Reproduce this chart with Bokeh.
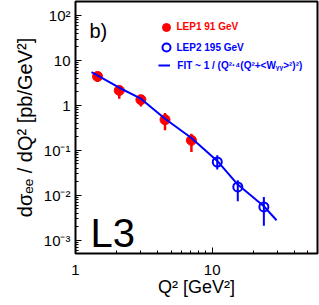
import math
from bokeh.plotting import figure
from bokeh.models import FixedTicker, Label, Legend, LegendItem
from bokeh.embed import file_html
from bokeh.resources import INLINE

# ---- data ----
lep1_q2 = [1.45, 2.09, 3.01, 4.52, 7.05]
lep1_xs = [4.41, 2.15, 1.34, 0.481, 0.167]
lep1_lo = [3.3, 1.41, 0.95, 0.278, 0.092]
lep1_hi = [5.5, 2.78, 1.67, 0.675, 0.235]

lep2_q2 = [10.9, 15.4, 23.9]
lep2_xs = [0.055, 0.0153, 0.0055]
lep2_lo = [0.0373, 0.0074, 0.0021]
lep2_hi = [0.0774, 0.0215, 0.0092]

fit_q2 = [1.31, 2.09, 3.01, 4.52, 7.05, 10.9, 15.4, 23.9, 29.6]
fit_xs = [5.49, 2.47, 1.41, 0.506, 0.188, 0.058, 0.0173, 0.0057, 0.00278]

x_ticks = [1.0, 10.0]
x_tick_labels = ["1", "10"]
y_ticks = [1e-3, 1e-2, 1e-1, 1.0, 10.0, 100.0]
y_tick_labels = ["10⁻³", "10⁻²", "10⁻¹", "1", "10", "10²"]

X0, X1 = 1.0, 59.0
Y0, Y1 = 5.06e-4, 205.0
FONT = "Liberation Sans"
RED = "#ff0000"
BLUE = "#0000ff"

p = figure(width=319, height=305, x_axis_type="log", y_axis_type="log",
           x_range=(X0, X1), y_range=(Y0, Y1),
           min_border_left=75, min_border_right=2, min_border_top=1, min_border_bottom=52,
           output_backend="svg", toolbar_location=None)
p.background_fill_color = "white"
p.border_fill_color = "white"
p.outline_line_color = "black"
p.outline_line_width = 2
p.xgrid.visible = False
p.ygrid.visible = False

x_minor = [m * 10 ** e for e in range(0, 2) for m in range(2, 10)]
y_minor = [m * 10 ** e for e in range(-4, 3) for m in range(2, 10)]
p.xaxis.ticker = FixedTicker(ticks=x_ticks, minor_ticks=x_minor)
p.yaxis.ticker = FixedTicker(ticks=y_ticks, minor_ticks=y_minor)
p.xaxis.major_label_overrides = dict(zip(x_ticks, x_tick_labels))
p.yaxis.major_label_overrides = dict(zip(y_ticks, y_tick_labels))
for ax in (p.xaxis[0], p.yaxis[0]):
    ax.axis_line_color = None
    ax.major_tick_in = 6
    ax.major_tick_out = 0
    ax.minor_tick_in = 3
    ax.minor_tick_out = 0
    ax.major_tick_line_color = "black"
    ax.minor_tick_line_color = "black"
    ax.major_label_text_font = FONT
    ax.major_label_text_font_size = "15px"
    ax.major_label_text_color = "black"
    ax.axis_label_text_font = FONT
    ax.axis_label_text_font_style = "normal"
    ax.axis_label_text_color = "black"

p.xaxis.major_label_standoff = 11
p.xaxis.axis_label = "Q² [GeV²]"
p.xaxis.axis_label_text_font_size = "18px"
p.xaxis.axis_label_standoff = -1

p.yaxis.major_label_standoff = 5
p.yaxis.axis_label = "dσₑₑ / dQ² [pb/GeV²]"
p.yaxis.axis_label_text_font_size = "20px"
p.yaxis.axis_label_standoff = 5

# error bars and points
p.segment(x0=lep1_q2, y0=lep1_lo, x1=lep1_q2, y1=lep1_hi, line_color=RED, line_width=2.5)
r1 = p.scatter(lep1_q2, lep1_xs, marker="circle", size=10, fill_color=RED, line_color=RED)
p.segment(x0=lep2_q2, y0=lep2_lo, x1=lep2_q2, y1=lep2_hi, line_color=BLUE, line_width=2)
r3 = p.line(fit_q2, fit_xs, line_color=BLUE, line_width=2)
r2 = p.scatter(lep2_q2, lep2_xs, marker="circle", size=9, fill_color=None,
               line_color=BLUE, line_width=2)

def make_legend(label, rend, color, loc, gw, standoff):
    leg = Legend(items=[LegendItem(label=label, renderers=[rend])], location=loc,
                 border_line_color=None, background_fill_alpha=0, padding=0, margin=0,
                 spacing=0, glyph_width=gw, glyph_height=20, label_height=20,
                 label_standoff=standoff, label_text_font=FONT, label_text_font_size="10px",
                 label_text_font_style="bold", label_text_color=color)
    p.add_layout(leg)

make_legend("LEP1 91 GeV", r1, RED, (80.5, 216.3), 20, 1)
make_legend("LEP2 195 GeV", r2, BLUE, (80.5, 195.7), 20, 1)
make_legend("FIT ~ 1 / (Q²·⁴(Q²+<Wᵧᵧ>²)²)", r3, BLUE, (83.3, 178.0), 12, 7)

# panel texts
p.add_layout(Label(x=X0, y=Y1, x_offset=14, y_offset=-29, text="b)", text_font=FONT,
                   text_font_size="20px", text_color="black",
                   text_baseline="alphabetic", text_align="left"))
p.add_layout(Label(x=X0, y=Y0, x_offset=15, y_offset=21, text="L3", text_font=FONT,
                   text_font_size="40px", text_color="black",
                   text_baseline="alphabetic", text_align="left"))

open("out.html", "w").write(file_html(p, INLINE))
